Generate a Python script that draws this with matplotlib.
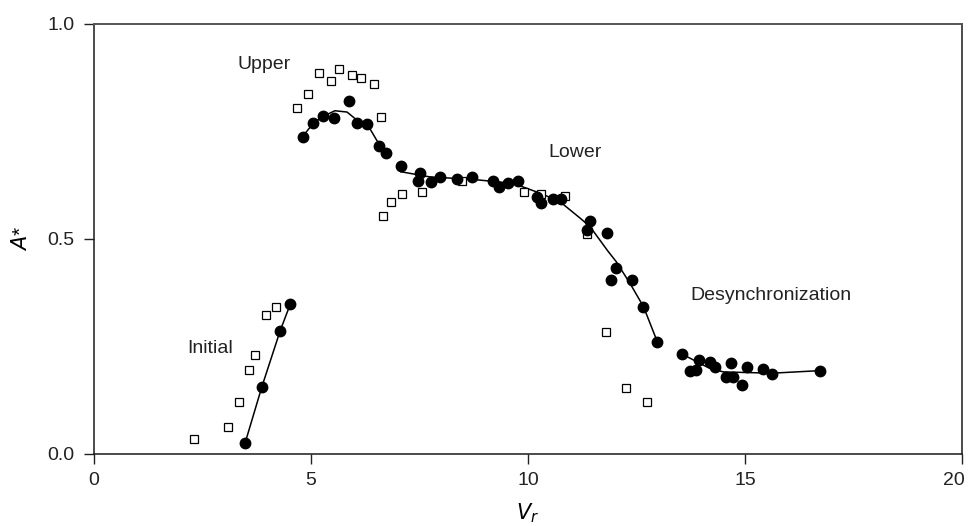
import numpy as np
import matplotlib
matplotlib.use("Agg")
import matplotlib.pyplot as plt
import matplotlib.transforms as mtransforms

plt.rcParams['font.family'] = ['Liberation Sans', 'DejaVu Sans']

# open squares
sq_vr = [2.30, 3.08, 3.33, 3.57, 3.72, 3.96, 4.19,
         4.67, 4.94, 5.18, 5.46, 5.65, 5.95, 6.15, 6.44, 6.62,
         6.65, 6.85, 7.10, 7.56, 8.47, 9.91, 10.29, 10.86, 11.35,
         11.80, 12.26, 12.74]
sq_a = [0.034, 0.062, 0.119, 0.194, 0.229, 0.323, 0.342,
        0.805, 0.837, 0.885, 0.868, 0.896, 0.882, 0.874, 0.860, 0.783,
        0.553, 0.585, 0.604, 0.610, 0.635, 0.610, 0.604, 0.600, 0.511,
        0.284, 0.153, 0.119]

# filled circles
dot_vr = [3.48, 3.87, 4.29, 4.52,
          4.81, 5.05, 5.28, 5.54, 5.87, 6.07, 6.30, 6.57, 6.73, 7.07,
          7.51, 7.47, 7.76, 7.97, 8.36, 8.72, 9.19, 9.32, 9.55, 9.78,
          10.20, 10.29, 10.57, 10.76, 11.43, 11.35, 11.81,
          12.03, 11.91, 12.40, 12.66, 12.98,
          13.54, 13.73, 13.87, 13.95, 14.19, 14.31, 14.56, 14.72, 14.67,
          14.92, 15.05, 15.41, 15.62, 16.73]
dot_a = [0.024, 0.156, 0.286, 0.347,
         0.738, 0.769, 0.785, 0.781, 0.820, 0.769, 0.766, 0.716, 0.699, 0.669,
         0.652, 0.635, 0.633, 0.644, 0.639, 0.644, 0.635, 0.621, 0.629, 0.635,
         0.598, 0.584, 0.592, 0.592, 0.541, 0.520, 0.513,
         0.431, 0.405, 0.405, 0.342, 0.260,
         0.232, 0.192, 0.194, 0.218, 0.214, 0.201, 0.179, 0.179, 0.210,
         0.159, 0.201, 0.197, 0.184, 0.193]

# fitted branches
init_vr = [3.48, 3.87, 4.29, 4.52]
init_a = [0.024, 0.156, 0.286, 0.347]
upper_vr = [4.81, 5.05, 5.28, 5.55, 5.83, 6.06, 6.30, 6.51, 6.73]
upper_a = [0.738, 0.769, 0.785, 0.798, 0.795, 0.776, 0.766, 0.730, 0.699]
lower_vr = [7.07, 7.74, 8.74, 9.66, 10.28, 10.74, 11.20, 11.43, 11.85,
            12.03, 12.35, 12.66, 12.98]
lower_a = [0.656, 0.644, 0.638, 0.629, 0.606, 0.586, 0.548, 0.528, 0.470,
           0.447, 0.396, 0.342, 0.260]
desync_vr = [13.54, 14.19, 14.50, 15.62, 16.73]
desync_a = [0.232, 0.198, 0.190, 0.187, 0.193]

fig = plt.figure(figsize=(9.7, 5.26), dpi=100)
ax = fig.add_axes([0.0969, 0.1378, 0.8949, 0.8166])

for xs, ys in [(init_vr, init_a), (upper_vr, upper_a),
               (lower_vr, lower_a), (desync_vr, desync_a)]:
    ax.plot(xs, ys, color='black', lw=1.1, zorder=2)

ax.plot(sq_vr, sq_a, linestyle='none', marker='s', ms=5.2,
        mfc='white', mec='black', mew=0.9, zorder=3)
ax.plot(dot_vr, dot_a, linestyle='none', marker='o', ms=7.5,
        mfc='black', mec='black', zorder=4)

txt = dict(fontsize=14, color='#222222')
ax.text(3.92, 0.905, 'Upper', ha='center', va='center', **txt)
ax.text(11.08, 0.700, 'Lower', ha='center', va='center', **txt)
ax.text(2.67, 0.245, 'Initial', ha='center', va='center', **txt)
ax.text(13.73, 0.369, 'Desynchronization', ha='left', va='center', **txt)

ax.set_xlim(0, 20)
ax.set_ylim(0, 1.0)
ax.set_xticks([0, 5, 10, 15, 20])
ax.set_yticks([0.0, 0.5, 1.0])
ax.set_yticklabels(['0.0', '0.5', '1.0'])
ax.tick_params(direction='out', length=7, width=1, labelsize=14,
               colors='#222222')
ax.tick_params(axis='y', pad=7)
ax.tick_params(axis='x', pad=6)
ax.set_xlabel(r'$\mathit{V_r}$', fontsize=15, labelpad=9)
ax.set_ylabel(r'$\mathit{A}$*', fontsize=15, labelpad=12)

# keep the last x label inside the figure
last = ax.get_xticklabels()[-1]
last.set_transform(last.get_transform() +
                   mtransforms.ScaledTranslation(-6 / 72, 0, fig.dpi_scale_trans))

for side in ['left', 'bottom', 'right']:
    ax.spines[side].set_color('#1a1a1a')
    ax.spines[side].set_linewidth(1.1)
ax.spines['top'].set_color('#555555')
ax.spines['top'].set_linewidth(1.4)

fig.savefig('out.png', dpi=100)
